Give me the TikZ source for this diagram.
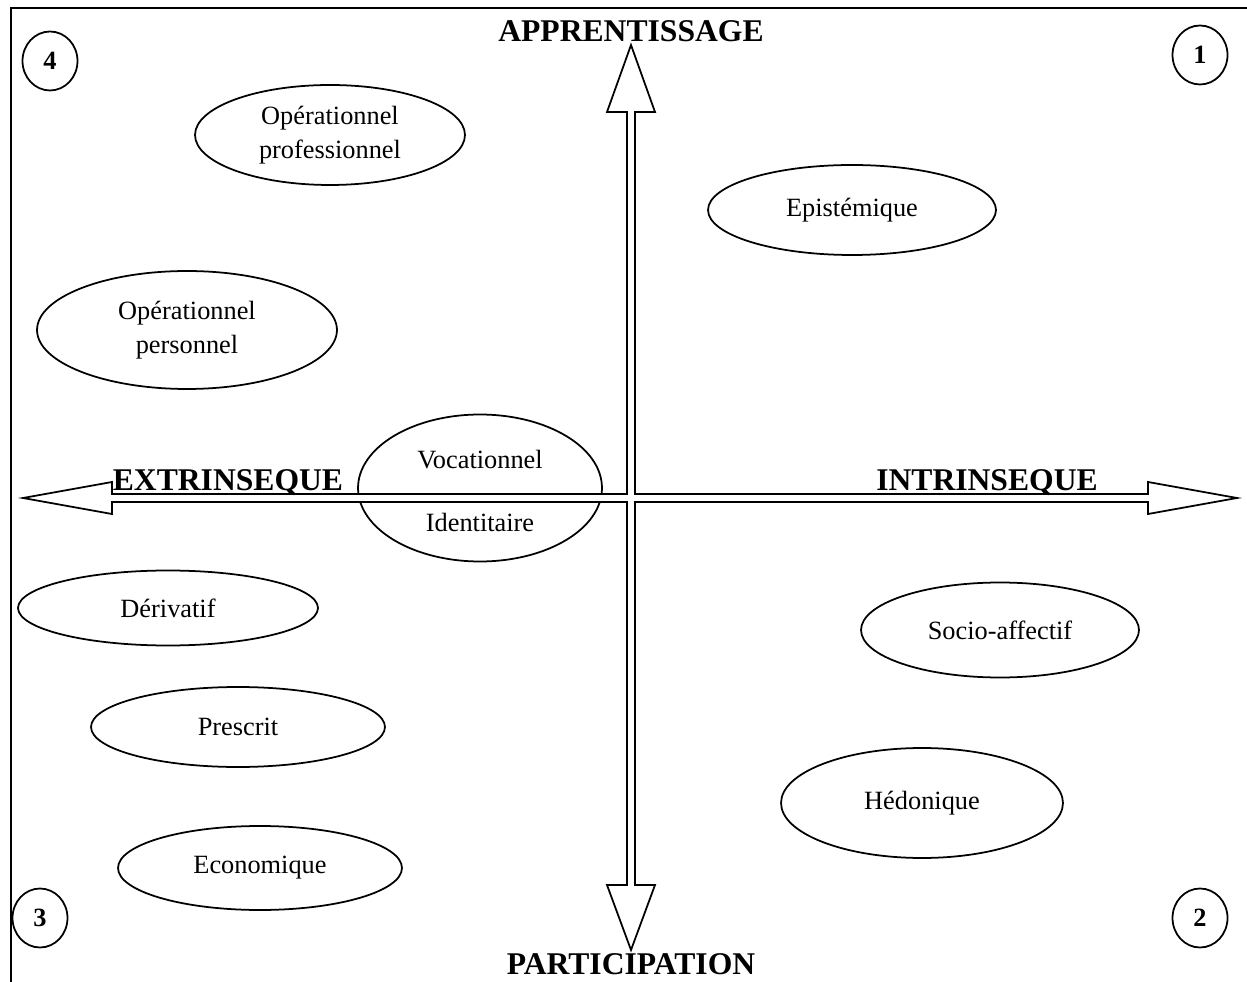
\documentclass[tikz,border=0pt]{standalone}
\usepackage{fontspec}
\setmainfont{Liberation Serif}
\usetikzlibrary{shapes.geometric}

\begin{document}
\begin{tikzpicture}[x=0.02cm,y=-0.02cm]
\useasboundingbox (0,0) rectangle (1247,982);

\tikzstyle{bulle}=[ellipse,draw,line width=1pt,inner sep=0pt,align=center,font=\fontsize{15}{19}\selectfont]
\tikzstyle{quadrant}=[ellipse,draw,line width=1pt,minimum width=1.1cm,minimum height=1.18cm,inner sep=0pt,font=\fontsize{15}{18}\selectfont\bfseries]
\tikzstyle{pole}=[font=\fontsize{18}{22}\selectfont\bfseries,inner sep=0pt,anchor=base]

% cadre
\draw[line width=1.1pt] (11,982) -- (11,8) -- (1247,8);

% motifs
  \foreach \name/\x/\y/\w/\h/\mot in {OP-pro/330/135/5.4/2.0/Opérationnel\\professionnel,
      Epist/852/210/5.76/1.8/Epistémique, OP-perso/187/330/6.0/2.36/Opérationnel\\personnel,
      Deriv/168/608/6.0/1.5/Dérivatif, Socio/1000/630/5.56/1.9/Socio-affectif,
      Prescrit/238/727/5.88/1.6/Prescrit, Hedo/922/803/5.64/2.2/Hédonique,
      Eco/260/868/5.68/1.68/Economique}
    \node[bulle,minimum width=\w cm,minimum height=\h cm] (\name) at (\x,\y) {\mot};
\node[bulle,minimum width=4.88cm,minimum height=2.94cm] (Voc) at (480,488) {};

% axes
\draw[line width=1pt,fill=white] (631,45) -- (655,112) -- (635,112) -- (635,494) -- (1148,494)
  -- (1148,482) -- (1237,498) -- (1148,514) -- (1148,502) -- (635,502) -- (635,885)
  -- (655,885) -- (631,950) -- (607,885) -- (627,885) -- (627,502) -- (112,502)
  -- (112,514) -- (23,498) -- (112,482) -- (112,494) -- (627,494) -- (627,112)
  -- (607,112) -- cycle;

\node[font=\fontsize{15}{19}\selectfont] (Voc-haut) at (480,460) {Vocationnel};
\node[font=\fontsize{15}{19}\selectfont] (Voc-bas) at (480,522) {Identitaire};

\node[pole] (appr) at (631,42) {APPRENTISSAGE};
\node[pole] (partic) at (631,974) {PARTICIPATION};
\node[pole] (extr) at (228,491) {EXTRINSEQUE};
\node[pole] (intr) at (987,491) {INTRINSEQUE};

  \foreach \name/\x/\y/\num in {Q-1/1200/55/1, Q-2/1200/918/2, Q-3/40/918/3, Q-4/50/61/4}
    \node[quadrant] (\name) at (\x,\y) {\num};

\end{tikzpicture}
\end{document}
